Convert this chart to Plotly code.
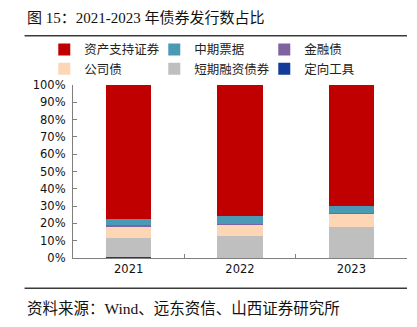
import plotly.graph_objects as go

years = ["2021", "2022", "2023"]

# Share of bond issuance count by type (%), stacked bottom to top
dingxiang = [0.8, 0.1, 0.1]        # 定向工具
duanrong = [10.9, 12.4, 18.0]      # 短期融资债券
gongsi = [6.2, 7.1, 7.5]           # 公司债
jinrong = [1.3, 0.3, 0.4]          # 金融债
zhongpiao = [3.5, 4.1, 4.2]        # 中期票据
abs_share = [77.3, 76.0, 69.8]     # 资产支持证券

y_ticks = [0, 10, 20, 30, 40, 50, 60, 70, 80, 90, 100]

cjk = "Noto Sans CJK SC"
serif = "Liberation Serif, Noto Sans CJK SC"
num_font = "DejaVu Sans, Noto Sans CJK SC"

series = [
    ("定向工具", dingxiang, "#123C97"),
    ("短期融资债券", duanrong, "#BFBFBF"),
    ("公司债", gongsi, "#FDD6B6"),
    ("金融债", jinrong, "#7F63A1"),
    ("中期票据", zhongpiao, "#4A9AB5"),
    ("资产支持证券", abs_share, "#C00000"),
]

# legend rows read: 资产支持证券, 中期票据, 金融债 / 公司债, 短期融资债券, 定向工具
legend_rank = {"资产支持证券": 1, "中期票据": 2, "金融债": 3,
               "公司债": 4, "短期融资债券": 5, "定向工具": 6}

fig = go.Figure()
for name, vals, color in series:
    fig.add_trace(go.Bar(
        x=years, y=vals, name=name,
        marker=dict(color=color, line=dict(width=0)),
        legendrank=legend_rank[name],
    ))

fig.update_layout(
    barmode="stack",
    bargap=0.595,
    width=417, height=327,
    margin=dict(l=73, r=10, t=85, b=69),
    paper_bgcolor="white",
    plot_bgcolor="white",
    showlegend=True,
    legend=dict(
        orientation="h",
        x=-0.086, y=1.29, xanchor="left", yanchor="top",
        traceorder="normal",
        entrywidth=65, entrywidthmode="pixels",
        font=dict(family=cjk, size=12.5, color="#222222"),
        itemwidth=30,
        tracegroupgap=0,
        bgcolor="rgba(0,0,0,0)",
    ),
    xaxis=dict(
        showline=True, linecolor="#7F7F7F", linewidth=1.2,
        ticks="inside", ticklen=4, tickcolor="#7F7F7F",
        tickson="boundaries",
        tickfont=dict(family=num_font, size=11.5, color="#111111"),
        showgrid=False, zeroline=False,
    ),
    yaxis=dict(
        range=[0, 100],
        tickvals=y_ticks,
        ticktext=[f"{v}%" for v in y_ticks],
        showline=True, linecolor="#7F7F7F", linewidth=1.2,
        ticks="inside", ticklen=4, tickcolor="#7F7F7F",
        tickfont=dict(family=num_font, size=11.5, color="#111111"),
        showgrid=False, zeroline=False,
        ticklabelstandoff=4,
    ),
    shapes=[
        dict(type="line", xref="paper", yref="paper",
             x0=-0.145, x1=1.0, y0=1.285, y1=1.285,
             line=dict(color="#3A3A3A", width=1.5)),
        dict(type="line", xref="paper", yref="paper",
             x0=-0.145, x1=1.0, y0=-0.175, y1=-0.175,
             line=dict(color="#3A3A3A", width=1.5)),
    ],
    annotations=[
        dict(text="图 15：2021-2023 年债券发行数占比",
             xref="paper", yref="paper", x=-0.145, y=1.39,
             xanchor="left", yanchor="middle", showarrow=False,
             font=dict(family=serif, size=15, color="#111111")),
        dict(text="资料来源：Wind、远东资信、山西证券研究所",
             xref="paper", yref="paper", x=-0.145, y=-0.29,
             xanchor="left", yanchor="middle", showarrow=False,
             font=dict(family=serif, size=15.5, color="#111111")),
    ],
)

fig.write_html("out.html")
